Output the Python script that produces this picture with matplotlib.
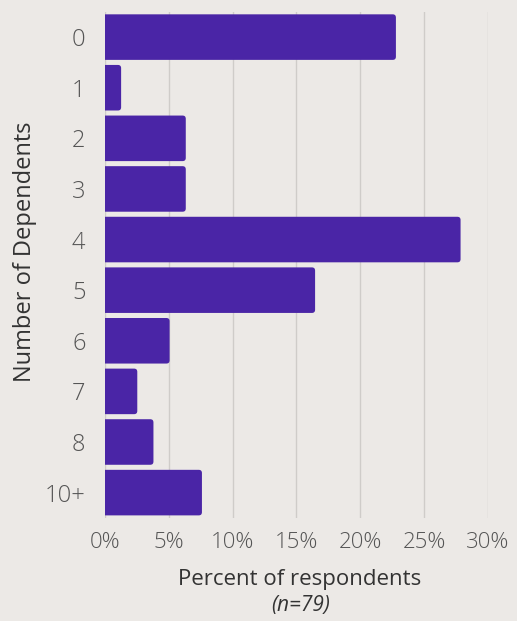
import matplotlib as mpl
import matplotlib.pyplot as plt
from matplotlib.patches import FancyBboxPatch
import numpy as np

categories = ["0", "1", "2", "3", "4", "5", "6", "7", "8", "10+"]
counts = [18, 1, 5, 5, 22, 13, 4, 2, 3, 6]
n_total = 79
percent = [100.0 * c / n_total for c in counts]
xticks = [0, 5, 10, 15, 20, 25, 30]
xtick_labels = ["0%", "5%", "10%", "15%", "20%", "25%", "30%"]

bg = "#ECE9E6"
bar_color = "#4A25A6"

mpl.rcParams['font.family'] = ["Open Sans", "DejaVu Sans"]

fig = plt.figure(figsize=(5.17, 6.21), dpi=100, facecolor=bg)
ax = fig.add_axes([0.203, 0.166, 0.741, 0.815], facecolor=bg)

ax.set_ylim(len(categories) - 0.5, -0.5)
ax.set_xlim(0, 30)

# rounded bars; start left of 0 so the left corners are clipped square
h = 0.9
aspect = (0.815 * 621 / 10) ** -1 / (0.741 * 517 / 30) ** -1
for i, v in enumerate(percent):
    p = FancyBboxPatch((-1, i - h / 2), v + 1, h,
                       boxstyle="round,pad=0,rounding_size=0.25",
                       mutation_aspect=aspect,
                       facecolor=bar_color, edgecolor="none", zorder=3)
    ax.add_patch(p)

y = np.arange(len(categories))
ax.set_yticks(y)
ax.set_yticklabels(categories, fontsize=17, fontweight="light", color="#555555")
ax.set_xticks(xticks)
ax.set_xticklabels(xtick_labels, fontsize=16, fontweight="light", color="#555555")
ax.tick_params(axis="y", length=0, pad=14)
ax.tick_params(axis="x", length=0, pad=10)

ax.grid(axis="x", color="#CFCCC9", linewidth=1.0, zorder=0)
for s in ax.spines.values():
    s.set_visible(False)

fig.text(25 / 517, 1 - 252 / 621, "Number of Dependents", rotation=90,
         ha="center", va="center", fontsize=17, color="#333333")
fig.text(300 / 517, 1 - 580 / 621, "Percent of respondents", ha="center",
         va="center", fontsize=16, color="#333333")
fig.text(301 / 517, 1 - 606 / 621, "(n=79)", ha="center", va="center",
         fontsize=15, style="italic", color="#333333")

fig.savefig("out.png", dpi=100, facecolor=bg)
